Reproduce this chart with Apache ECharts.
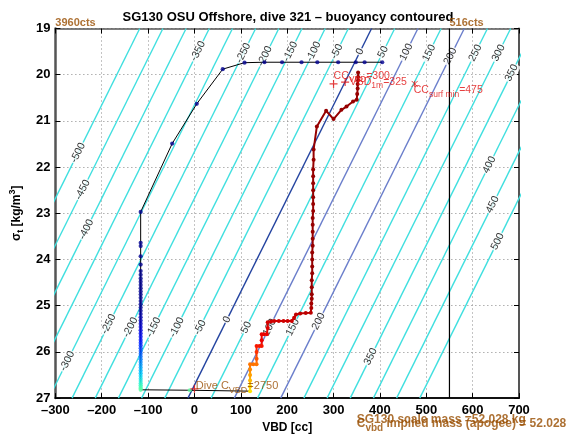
<!DOCTYPE html>
<html><head><meta charset="utf-8">
<script src="https://cdn.jsdelivr.net/npm/echarts/dist/echarts.min.js"></script>
<style>html,body{margin:0;padding:0;background:#fff}#c{width:570px;height:439px}</style>
</head><body><div id="c"></div>
<script>
// ---------------- data ----------------
const xTicks = [-300, -200, -100, 0, 100, 200, 300, 400, 500, 600, 700];
const yTicks = [19, 20, 21, 22, 23, 24, 25, 26, 27];

// buoyancy contour levels and where each level meets the top (sigma 19) and bottom (sigma 27) of the plot (VBD, cc)
const contourLevels    = [-500,-450,-400,-350,-300,-250,-200,-150,-100,-50,0,50,100,150,200,250,300,350,400,450,500];
const contourVbdTop    = [-118,-68,-18,32,82,132,182,232,282,332,382,432,482,532,582,632,682,732,782,832,882];
const contourVbdBottom = [-514,-464,-414,-364,-314,-264,-214,-164,-114,-64,-14,36,86,136,186,236,286,336,386,436,486];

// contour labels: text, VBD, sigma
const contourLabelText  = ['-350','-250','-200','-150','-100','-50','0','50','100','150','200','250','300',
                           '350','400','450','500','-500','-450','-400',
                           '-300','-250','-200','-150','-100','-50','0','50','100','150','200','350'];
const contourLabelVbd   = [7.7,105.5,152,207,257,307,357,407,457,506,552,606,656,
                           684,636,643,654,-251,-241,-233,
                           -274,-185,-138,-88,-38,12,70,112,162,212,268,380];
const contourLabelSigma = [19.49,19.53,19.6,19.5,19.5,19.5,19.5,19.51,19.51,19.53,19.6,19.53,19.53,
                           19.96,21.95,22.81,23.61,21.69,22.49,23.35,
                           26.2,25.4,25.47,25.47,25.47,25.47,25.3,25.47,25.47,25.47,25.34,26.1];

// descent (blue) trajectory
const descentVbd = [405,367,348,310,265,231,189,151,108,61,5,-48,-116,
  -116,-116,-116,-116,-116,-116,-116,-116,-116,-116,-116,-116,-116,-116,-116,-116,-116,-116,-116,-116,
  -116,-116,-116,-116,-116,-116,-116,-116,-116,-116,-116,-116,-116,-116,-116,-116,-116,-116,-116,-116,
  -116,-116,-116,-116,-116,-116,-10];
const descentSigma = [19.73,19.73,19.73,19.73,19.73,19.73,19.73,19.73,19.74,19.88,20.63,21.49,22.97,
  23.64,23.71,23.93,24.11,24.25,24.33,24.41,24.48,24.55,24.62,24.69,24.76,24.83,24.9,24.97,25.04,25.11,25.18,
  25.25,25.32,25.39,25.46,25.53,25.6,25.67,25.74,25.8,25.86,25.92,25.98,26.04,26.1,26.16,26.22,26.28,26.34,
  26.4,26.46,26.52,26.58,26.63,26.68,26.72,26.76,26.79,26.82,26.83];

// ascent (red) trajectory
const ascentVbd = [120,120,120,120,120,120,127,134,134,134,134,140,145,145,145,150,156,158,158,165,172,182,192,201,210,
  215,219,228,240,251,252,252,253,253,253,253,254,254,254,254,255,255,255,255,255,256,256,256,256,256,256,256,257,257,
  264,284,300,317,328,342,350,351,352,352,353,353,353];
const ascentSigma = [26.85,26.75,26.62,26.5,26.38,26.27,26.27,26.27,26.15,26.0,25.87,25.87,25.87,25.75,25.62,25.62,25.62,25.48,25.36,25.34,25.33,25.33,25.33,25.33,25.33,
  25.26,25.19,25.17,25.16,25.15,25.05,24.95,24.85,24.75,24.6,24.45,24.3,24.15,24.0,23.85,23.7,23.55,23.4,23.25,23.1,22.95,22.8,22.65,22.5,22.35,22.2,22.05,21.84,21.62,
  21.12,20.78,20.96,20.76,20.69,20.58,20.54,20.42,20.3,20.2,20.12,20.05,19.95];

// markers
const ccVbd = 300, vbd1m = 325, ccSurfMin = 475, diveCvbdVbd = 0;
const markerSigma = 20.2, diveMarkerSigma = 26.8;
const blackLineVbd = 550;

// ---------------- chart ----------------
const FONT = '"Liberation Sans", Arial, Helvetica, sans-serif';
const BROWN = '#994d00', RED = '#e01010';
const chart = echarts.init(document.getElementById('c'));

const series = [];
contourLevels.forEach((lv, i) => {
  let col = '#40dfdf';
  if (lv === 0) col = '#2444a0';
  else if (lv === 100 || lv === 200) col = '#6a7ecb';
  series.push({
    type: 'line', silent: true, symbol: 'none', z: 1,
    data: [[contourVbdTop[i], 19], [contourVbdBottom[i], 27]],
    lineStyle: { color: col, width: 1.4 }
  });
});
// contour labels
series.push({
  type: 'scatter', silent: true, symbolSize: 0, z: 2,
  data: contourLabelText.map((t, i) => ({ name: t, value: [contourLabelVbd[i], contourLabelSigma[i]] })),
  label: { show: true, formatter: '{b}', position: 'inside', rotate: 63, fontSize: 10.5,
    fontFamily: FONT, color: '#000', backgroundColor: '#fff', padding: [0, 1, 0, 1] }
});
// vertical black line
series.push({ type: 'line', silent: true, symbol: 'none', z: 3,
  data: [[blackLineVbd, 19], [blackLineVbd, 27]], lineStyle: { color: '#000', width: 1.2 } });

const descent = descentVbd.map((v, i) => [v, descentSigma[i]]);
const ascent = ascentVbd.map((v, i) => [v, ascentSigma[i]]);
series.push({ type: 'line', silent: true, showSymbol: false, symbol: 'none', z: 4, data: descent,
  lineStyle: { color: '#000', width: 1 } });
series.push({ type: 'line', silent: true, symbol: 'none', z: 4,
  data: [descent[descent.length - 1], ascent[0]], lineStyle: { color: '#000', width: 1 } });
const descentDotsIdx = series.length;
series.push({ type: 'scatter', silent: true, z: 5, symbolSize: 4.2, data: descent });
const ascentIdx = series.length;
series.push({ type: 'line', silent: true, z: 5, symbol: 'circle', symbolSize: 4, showSymbol: true,
  data: ascent, lineStyle: { width: 2 } });

// markers
const plusPath = 'path://M5,0L5,10M0,5L10,5';
const xPath = 'path://M0,0L10,10M10,0L0,10M5,0L5,10';
series.push({ type: 'scatter', silent: true, z: 6, symbol: plusPath, symbolSize: 8,
  itemStyle: { color: 'none', borderColor: RED, borderWidth: 1.2 },
  data: [[ccVbd, markerSigma], [vbd1m, markerSigma - 0.04], [diveCvbdVbd, diveMarkerSigma]] });
series.push({ type: 'scatter', silent: true, z: 6, symbol: xPath, symbolSize: 6,
  itemStyle: { color: 'none', borderColor: RED, borderWidth: 1 },
  data: [[ccSurfMin, markerSigma]] });

// text annotations
function txt(vbd, sigma, text, rich, color, size, weight, va) {
  return { value: [vbd, sigma], label: { show: true, position: [0, 0], align: 'left', verticalAlign: va || 'middle',
    formatter: text, color: color, fontSize: size, fontWeight: weight, fontFamily: FONT,
    rich: rich } };
}
function richSet(color, size, weight) {
  return {
    m: { color: color, fontSize: size, fontWeight: weight, fontFamily: FONT },
    s: { color: color, fontSize: size - 2, fontWeight: weight, fontFamily: FONT, padding: [size - 2, 0, 0, 0] }
  };
}
const redRich = richSet(RED, 10.5, 'normal');
const brownRich = richSet(BROWN, 11, 'normal');
const brownRichB = richSet(BROWN, 12, 'bold');
series.push({
  type: 'scatter', silent: true, z: 7, symbolSize: 0, clip: false,
  data: [
    txt(ccVbd, 20.02, '{m|CC}{s|VBD}{m|=300}', redRich, RED, 10.5, 'normal'),
    txt(vbd1m + 10, 20.15, '{m|VBD}{s|1m}{m|=325}', redRich, RED, 10.5, 'normal'),
    txt(ccSurfMin - 2, 20.33, '{m|CC}{s|surf min}{m|=475}', redRich, RED, 10.5, 'normal'),
    txt(3, 26.73, '{m|Dive C}{s|VBD}{m|=2750}', brownRich, BROWN, 11, 'normal'),
    txt(-300, 18.99, '3960cts', null, BROWN, 11, 'bold', 'bottom'),
    txt(blackLineVbd, 18.99, '516cts', null, BROWN, 11, 'bold', 'bottom'),
    txt(350, 27.47, '{m|SG130 scale mass =52.028 kg}', brownRichB, BROWN, 12, 'bold'),
    txt(350, 27.55, '{m|C}{s|vbd}{m| implied mass (apogee) = 52.028 kg}', brownRichB, BROWN, 12, 'bold')
  ]
});

function fmt(v) { return v < 0 ? '\u2013' + Math.abs(v) : String(v); }
const tickLbl = { fontSize: 13, fontWeight: 'bold', color: '#000', fontFamily: FONT };

chart.setOption({
  animation: false,
  backgroundColor: '#fff',
  title: { text: 'SG130 OSU Offshore, dive 321 \u2013 buoyancy contoured', left: 283, textAlign: 'center', top: 6,
    textStyle: { fontSize: 13, fontWeight: 'bold', color: '#000', fontFamily: FONT } },
  grid: { left: 47, top: 28.5, width: 472, height: 370.5, containLabel: false },
  xAxis: [
    { type: 'value', min: xTicks[0], max: xTicks[xTicks.length - 1], interval: 100, position: 'bottom',
      axisLine: { show: true, onZero: false, lineStyle: { color: '#111', width: 2 } },
      axisTick: { show: true, inside: true, length: 5, lineStyle: { color: '#000' } },
      axisLabel: Object.assign({ margin: 6, formatter: fmt }, tickLbl),
      splitLine: { show: true, lineStyle: { color: '#888', type: [1, 3], width: 1 } },
      name: 'VBD [cc]', nameLocation: 'middle', nameGap: 22,
      nameTextStyle: { fontSize: 12, fontWeight: 'bold', color: '#000', fontFamily: FONT } },
    { type: 'value', min: xTicks[0], max: xTicks[xTicks.length - 1], interval: 100, position: 'top',
      axisLine: { show: true, onZero: false, lineStyle: { color: '#555', width: 1.5 } },
      axisTick: { show: true, inside: true, length: 5, lineStyle: { color: '#000' } },
      axisLabel: { show: false }, splitLine: { show: false } }
  ],
  yAxis: [
    { type: 'value', inverse: true, min: yTicks[0], max: yTicks[yTicks.length - 1], interval: 1, position: 'left',
      axisLine: { show: true, onZero: false, lineStyle: { color: '#555', width: 2.5 } },
      axisTick: { show: true, inside: true, length: 5, lineStyle: { color: '#000' } },
      axisLabel: Object.assign({ margin: 5 }, tickLbl),
      splitLine: { show: true, lineStyle: { color: '#888', type: [1, 3], width: 1 } },
      name: '{m|\u03c3}{s|t}{m| [kg/m}{p|3}{m|]}', nameLocation: 'middle', nameGap: 27, nameRotate: 90,
      nameTextStyle: { fontSize: 12, fontWeight: 'bold', color: '#000', fontFamily: FONT,
        rich: { m: { fontSize: 12, fontWeight: 'bold', fontFamily: FONT },
                s: { fontSize: 9, fontWeight: 'bold', fontFamily: FONT, padding: [8, 0, 0, 0] },
                p: { fontSize: 9, fontWeight: 'bold', fontFamily: FONT, padding: [0, 0, 8, 0] } } } },
    { type: 'value', inverse: true, min: yTicks[0], max: yTicks[yTicks.length - 1], interval: 1, position: 'right',
      axisLine: { show: true, onZero: false, lineStyle: { color: '#555', width: 2 } },
      axisTick: { show: true, inside: true, length: 5, lineStyle: { color: '#000' } },
      axisLabel: { show: false }, splitLine: { show: false } }
  ],
  visualMap: [
    { type: 'continuous', show: false, seriesIndex: descentDotsIdx, dimension: 1, min: 19, max: 27,
      inRange: { color: [].concat(Array(25).fill('#000090'),
        ['#0000b0', '#0000d8', '#0010ff', '#0050ff', '#0090ff', '#00d0ff', '#40ffc0', '#a0ff60']) } },
    { type: 'continuous', show: false, seriesIndex: ascentIdx, dimension: 1, min: 19, max: 27,
      inRange: { color: [].concat(Array(24).fill('#960000'),
        ['#a80000', '#c80000', '#e00000', '#f00000', '#ff3000', '#ff7000', '#ffa000', '#ffd000', '#ffff00']) } }
  ],
  series: series
});
</script></body></html>
